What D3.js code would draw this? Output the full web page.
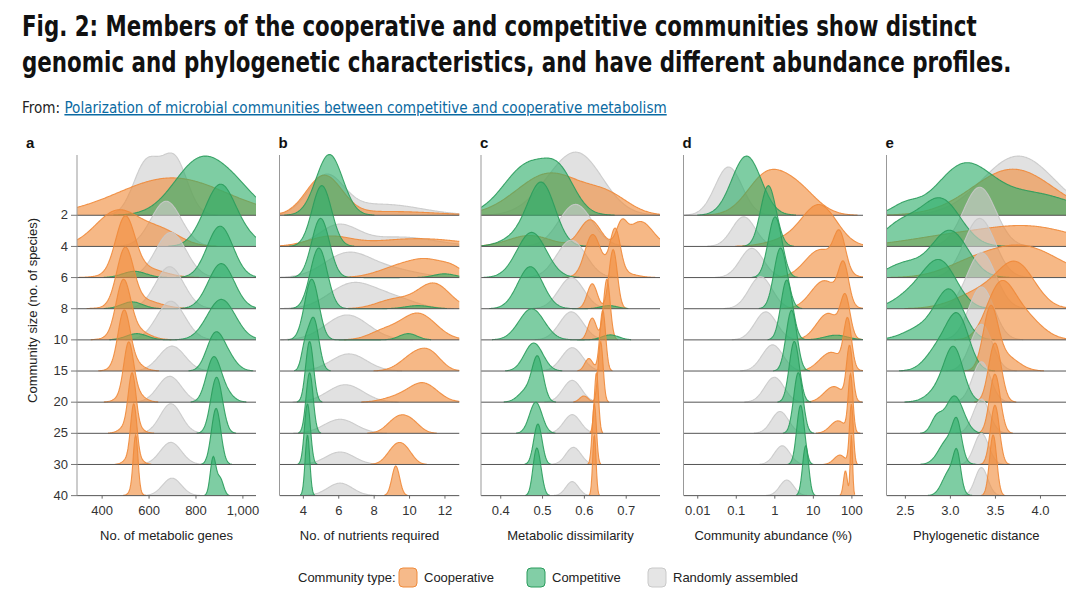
<!DOCTYPE html>
<html>
<head>
<meta charset="utf-8">
<script src="https://cdn.jsdelivr.net/npm/d3@7"></script>
<style>
  body { margin: 0; background: #fff; }
  svg { display: block; font-family: "Liberation Sans", Arial, sans-serif; }
</style>
</head>
<body>
<svg id="chart" width="1080" height="601"></svg>
<script>
// community sizes, one ridge row each (top to bottom)
const sizes = [2, 4, 6, 8, 10, 15, 20, 25, 30, 40];

// each ridge = list of [centre, spread, peak height in row units]
// a: no. of metabolic genes
const genesCoop = [
  [[700, 230, 1.2]],
  [[470, 95, 1.15], [660, 80, 0.45]],
  [[500, 40, 1.7], [560, 90, 0.35]],
  [[500, 35, 1.75], [560, 80, 0.3]],
  [[492, 30, 1.6], [525, 60, 0.4]],
  [[495, 25, 1.6], [515, 45, 0.4]],
  [[515, 20, 1.5], [525, 40, 0.45]],
  [[530, 16, 1.6], [525, 35, 0.35]],
  [[537, 13, 1.6], [535, 28, 0.35]],
  [[545, 10, 1.7], [540, 18, 0.25]]
];
const genesComp = [
  [[820, 110, 1.75], [980, 90, 0.6]],
  [[905, 60, 1.85], [1000, 60, 0.35], [820, 50, 0.2]],
  [[905, 55, 1.65], [540, 50, 0.2]],
  [[910, 55, 1.45], [530, 45, 0.22]],
  [[910, 60, 1.3], [550, 45, 0.2]],
  [[880, 35, 1.0], [930, 40, 0.5]],
  [[875, 30, 1.3], [920, 35, 0.35]],
  [[890, 25, 1.8]],
  [[888, 20, 1.8]],
  [[875, 12, 1.2], [905, 14, 0.55]]
];
const genesRand = [
  [[590, 55, 1.65], [710, 55, 1.8]],
  [[675, 65, 1.45]],
  [[695, 65, 1.45]],
  [[690, 60, 1.35]],
  [[695, 60, 1.24]],
  [[700, 55, 0.8]],
  [[690, 50, 0.83]],
  [[695, 45, 0.95]],
  [[695, 45, 0.71]],
  [[700, 40, 0.56]]
];

// b: no. of nutrients required
const nutrCoop = [
  [[5.2, 1.0, 1.25], [9, 2.5, 0.12]],
  [[5.5, 1.2, 0.3], [10.5, 2.5, 0.25]],
  [[9.5, 1.2, 0.35], [11.2, 1.0, 0.45], [12.5, 0.6, 0.2]],
  [[9.2, 1.0, 0.3], [11.4, 0.9, 0.8]],
  [[10.5, 1.0, 0.85], [8.5, 0.8, 0.25]],
  [[10.4, 0.8, 0.55], [11.3, 0.6, 0.35]],
  [[10.8, 0.8, 0.6], [9.3, 0.8, 0.15]],
  [[9.4, 0.6, 0.5], [10.2, 0.5, 0.25]],
  [[9.3, 0.5, 0.6], [9.9, 0.4, 0.25]],
  [[9.25, 0.22, 0.95]]
];
const nutrComp = [
  [[5.5, 0.75, 1.95]],
  [[5.07, 0.55, 1.95]],
  [[5.0, 0.5, 1.9], [12, 0.6, 0.12]],
  [[4.9, 0.48, 1.95], [10.5, 0.7, 0.1]],
  [[4.5, 0.4, 1.95], [9.95, 0.5, 0.2]],
  [[4.6, 0.3, 1.7], [4.1, 0.2, 0.6]],
  [[4.38, 0.22, 1.95]],
  [[4.38, 0.2, 1.95]],
  [[4.26, 0.17, 1.95]],
  [[4.26, 0.13, 1.95]]
];
const nutrRand = [
  [[5.3, 1.0, 1.2], [8.5, 2.2, 0.35]],
  [[6.0, 1.1, 0.65], [9.5, 2.0, 0.3]],
  [[6.5, 1.3, 0.75], [9, 1.5, 0.25]],
  [[6.8, 1.3, 0.8], [9.2, 1.2, 0.3]],
  [[6.5, 1.2, 0.8]],
  [[6.6, 1.0, 0.55]],
  [[6.4, 1.0, 0.56]],
  [[6.1, 0.9, 0.45]],
  [[6.1, 0.8, 0.4]],
  [[6.1, 0.7, 0.4]]
];

// c: metabolic dissimilarity
const dissCoop = [
  [[0.52, 0.08, 1.35], [0.66, 0.05, 0.5]],
  [[0.47, 0.05, 0.35], [0.615, 0.025, 0.85], [0.69, 0.012, 0.6], [0.735, 0.03, 0.8]],
  [[0.62, 0.018, 1.2], [0.675, 0.012, 1.3], [0.66, 0.04, 0.3]],
  [[0.62, 0.012, 0.8], [0.67, 0.01, 1.9]],
  [[0.62, 0.01, 0.7], [0.655, 0.008, 1.95]],
  [[0.612, 0.01, 0.4], [0.645, 0.007, 1.95]],
  [[0.6, 0.01, 0.2], [0.64, 0.006, 1.95]],
  [[0.63, 0.005, 1.95]],
  [[0.625, 0.005, 1.95]],
  [[0.625, 0.004, 1.95]]
];
const dissComp = [
  [[0.47, 0.06, 1.65], [0.545, 0.035, 0.85]],
  [[0.5, 0.032, 1.9], [0.45, 0.04, 0.35]],
  [[0.475, 0.035, 1.45]],
  [[0.472, 0.03, 1.35], [0.66, 0.02, 0.1]],
  [[0.475, 0.03, 1.0], [0.663, 0.02, 0.16]],
  [[0.48, 0.022, 0.9]],
  [[0.49, 0.013, 1.3], [0.465, 0.02, 0.4]],
  [[0.485, 0.015, 1.0]],
  [[0.49, 0.01, 1.3]],
  [[0.485, 0.008, 1.2], [0.495, 0.008, 0.6]]
];
const dissRand = [
  [[0.585, 0.06, 1.95], [0.5, 0.05, 0.3]],
  [[0.58, 0.04, 1.35]],
  [[0.57, 0.035, 1.2]],
  [[0.57, 0.03, 1.0]],
  [[0.57, 0.028, 0.9]],
  [[0.572, 0.025, 0.75]],
  [[0.572, 0.022, 0.7]],
  [[0.572, 0.02, 0.6]],
  [[0.575, 0.018, 0.55]],
  [[0.572, 0.015, 0.45]]
];

// d: community abundance (%), spread in decades
const abundCoop = [
  [[0.6, 0.5, 1.2], [4, 0.5, 0.8]],
  [[15, 0.45, 1.3], [2, 0.5, 0.2]],
  [[50, 0.15, 1.1], [16, 0.4, 0.9]],
  [[63, 0.13, 1.2], [20, 0.35, 0.9]],
  [[70, 0.12, 1.2], [25, 0.3, 0.85]],
  [[80, 0.1, 1.5], [30, 0.3, 0.6]],
  [[90, 0.08, 1.7], [35, 0.25, 0.5]],
  [[95, 0.06, 1.8], [45, 0.2, 0.4]],
  [[100, 0.05, 1.9], [50, 0.15, 0.3]],
  [[100, 0.03, 1.95], [70, 0.05, 0.8]]
];
const abundComp = [
  [[0.19, 0.38, 1.9]],
  [[0.7, 0.2, 1.95]],
  [[1.05, 0.18, 1.95]],
  [[1.45, 0.17, 1.95]],
  [[2.1, 0.15, 1.92], [40, 0.3, 0.15]],
  [[2.8, 0.14, 1.95]],
  [[3.3, 0.13, 1.95]],
  [[4.2, 0.12, 1.95]],
  [[4.8, 0.1, 1.9]],
  [[6.5, 0.08, 1.6]]
];
const abundRand = [
  [[0.065, 0.35, 1.55]],
  [[0.16, 0.3, 0.95]],
  [[0.26, 0.3, 0.94]],
  [[0.44, 0.3, 1.03]],
  [[0.6, 0.28, 0.9]],
  [[0.9, 0.27, 0.84]],
  [[1.0, 0.25, 0.8]],
  [[1.4, 0.22, 0.7]],
  [[1.6, 0.2, 0.6]],
  [[2.1, 0.18, 0.5]]
];

// e: phylogenetic distance
const phyloCoop = [
  [[3.7, 0.45, 1.48]],
  [[3.9, 0.5, 0.6], [3.0, 0.5, 0.3]],
  [[3.8, 0.4, 1.0], [3.2, 0.3, 0.3]],
  [[3.75, 0.2, 1.2], [3.4, 0.3, 0.6]],
  [[3.55, 0.15, 1.5], [3.8, 0.2, 0.8]],
  [[3.45, 0.08, 1.8], [3.6, 0.15, 0.5]],
  [[3.5, 0.07, 1.9]],
  [[3.5, 0.06, 1.9]],
  [[3.5, 0.05, 1.9]],
  [[3.48, 0.04, 1.95]]
];
const phyloComp = [
  [[3.15, 0.3, 1.5], [3.9, 0.45, 0.7], [2.5, 0.15, 0.3]],
  [[2.9, 0.22, 1.5], [2.45, 0.2, 0.7]],
  [[3.0, 0.2, 1.5], [2.5, 0.2, 0.45]],
  [[2.9, 0.18, 1.4], [2.6, 0.2, 0.5]],
  [[3.0, 0.15, 1.5], [2.7, 0.2, 0.4]],
  [[3.1, 0.12, 1.5], [2.9, 0.15, 0.8]],
  [[3.05, 0.1, 1.3], [2.95, 0.15, 0.6]],
  [[3.05, 0.1, 1.2], [2.85, 0.06, 0.45]],
  [[3.08, 0.05, 1.0], [2.98, 0.1, 0.8]],
  [[3.08, 0.04, 1.0], [3.0, 0.08, 0.8]]
];
const phyloRand = [
  [[3.76, 0.4, 1.9]],
  [[3.33, 0.18, 1.9]],
  [[3.33, 0.17, 1.9]],
  [[3.35, 0.16, 1.8]],
  [[3.35, 0.14, 1.7]],
  [[3.35, 0.12, 1.5]],
  [[3.35, 0.1, 1.3]],
  [[3.35, 0.09, 1.1]],
  [[3.35, 0.08, 1.0]],
  [[3.35, 0.07, 0.9]]
];

const genesTicks = [400, 600, 800, 1000];
const nutrTicks = [4, 6, 8, 10, 12];
const dissTicks = [0.4, 0.5, 0.6, 0.7];
const abundTicks = [0.01, 0.1, 1, 10, 100];
const abundTickLabels = ['0.01', '0.1', '1', '10', '100'];
const phyloTicks = [2.5, 3.0, 3.5, 4.0];

const svg = d3.select('#chart');

// title + source line, squeezed horizontally to the reference width
function fitText(sel, width) {
  const w = sel.node().getComputedTextLength();
  const x = +sel.attr('x'), yy = +sel.attr('y');
  sel.attr('x', 0).attr('y', 0)
    .attr('transform', `translate(${x},${yy}) scale(${width / w},1)`);
}
const titleFont = '"DejaVu Sans Condensed", "Liberation Sans Narrow", sans-serif';
const t1 = svg.append('text').attr('x', 22).attr('y', 36)
  .attr('font-family', titleFont).attr('font-weight', 'bold').attr('font-size', 28).attr('fill', '#111')
  .text('Fig. 2: Members of the cooperative and competitive communities show distinct');
fitText(t1, 955);
const t2 = svg.append('text').attr('x', 22).attr('y', 72)
  .attr('font-family', titleFont).attr('font-weight', 'bold').attr('font-size', 28).attr('fill', '#111')
  .text('genomic and phylogenetic characteristics, and have different abundance profiles.');
fitText(t2, 990);

const src = svg.append('text').attr('x', 22).attr('y', 113)
  .attr('font-family', titleFont).attr('font-size', 15);
src.append('tspan').attr('fill', '#222').text('From: ');
src.append('tspan').attr('fill', '#0b6aa2').attr('text-decoration', 'underline')
  .text('Polarization of microbial communities between competitive and cooperative metabolism');
fitText(src, 645);

const colors = {
  coop: { fill: '#f08c3c', line: '#ef8a3a', op: 0.62 },
  comp: { fill: '#2fae6a', line: '#2a9c5c', op: 0.62 },
  rand: { fill: '#cfcfcf', line: '#c9c9c9', op: 0.62 }
};

const y = d3.scaleBand().domain(sizes).range([199.7, 511.2]).paddingInner(0).align(0);
const rowStep = y.step();
const base = s => y(s) + rowStep / 2;
const h = d3.scaleLinear().domain([0, 1]).range([0, rowStep]);

const panels = [
  { key: 'a', title: 'No. of metabolic genes', coop: genesCoop, comp: genesComp, rand: genesRand,
    x0: 77, x1: 256, domain: [295, 1058], ticks: genesTicks, fmt: d3.format(','), log: false },
  { key: 'b', title: 'No. of nutrients required', coop: nutrCoop, comp: nutrComp, rand: nutrRand,
    x0: 279.5, x1: 459.5, domain: [2.68, 12.85], ticks: nutrTicks, fmt: d3.format('d'), log: false },
  { key: 'c', title: 'Metabolic dissimilarity', coop: dissCoop, comp: dissComp, rand: dissRand,
    x0: 481, x1: 660, domain: [0.354, 0.782], ticks: dissTicks, fmt: d3.format('.1f'), log: false },
  { key: 'd', title: 'Community abundance (%)', coop: abundCoop, comp: abundComp, rand: abundRand,
    x0: 683.5, x1: 863, domain: [0.0044, 200], ticks: abundTicks, fmt: (d, i) => abundTickLabels[i], log: true },
  { key: 'e', title: 'Phylogenetic distance', coop: phyloCoop, comp: phyloComp, rand: phyloRand,
    x0: 886.5, x1: 1066, domain: [2.296, 4.289], ticks: phyloTicks, fmt: d3.format('.1f'), log: false }
];

panels.forEach(p => {
  const x = (p.log ? d3.scaleLog() : d3.scaleLinear()).domain(p.domain).range([p.x0, p.x1]);
  // density evaluated along the pixel axis
  const N = 260;
  const px = d3.range(N + 1).map(i => p.x0 + (p.x1 - p.x0) * i / N);
  const tx = v => p.log ? Math.log10(v) : v;
  const density = comps => px.map(xx => {
    const v = tx(x.invert(xx));
    return d3.sum(comps, c => c[2] * Math.exp(-0.5 * Math.pow((v - tx(c[0])) / c[1], 2)));
  });

  const g = svg.append('g');
  g.append('clipPath').attr('id', 'clip-' + p.key)
    .append('rect').attr('x', p.x0).attr('y', 120).attr('width', p.x1 - p.x0).attr('height', 400);
  const plot = g.append('g').attr('clip-path', `url(#clip-${p.key})`);

  sizes.forEach((s, i) => {
    const b = base(s);
    ['rand', 'coop', 'comp'].forEach(type => {
      const d = density(p[type][i]);
      let lo = d.findIndex(v => v > 0.006);
      let hi = N - [...d].reverse().findIndex(v => v > 0.006);
      if (lo < 0) return;
      const pts = d3.range(lo, hi + 1).map(k => [px[k], d[k]]);
      plot.append('path')
        .attr('d', d3.area().x(q => q[0]).y0(b).y1(q => b - h(q[1]))(pts))
        .attr('fill', colors[type].fill).attr('fill-opacity', colors[type].op);
      plot.append('path')
        .attr('d', d3.line().x(q => q[0]).y(q => b - h(q[1]))(pts))
        .attr('fill', 'none').attr('stroke', colors[type].line).attr('stroke-width', 1.1)
        .attr('stroke-opacity', 0.9);
    });
    plot.append('line').attr('x1', p.x0).attr('x2', p.x1).attr('y1', b).attr('y2', b)
      .attr('stroke', '#555').attr('stroke-width', 1);
  });

  // left axis line
  g.append('line').attr('x1', p.x0).attr('x2', p.x0).attr('y1', 155).attr('y2', base(40))
    .attr('stroke', '#999').attr('stroke-width', 1);

  // x axis
  const xa = d3.axisBottom(x).tickValues(p.ticks).tickSize(3).tickFormat(p.fmt);
  const ax = g.append('g').attr('transform', `translate(0,${base(40)})`).call(xa);
  ax.select('.domain').remove();
  ax.selectAll('line').attr('stroke', '#666');
  ax.selectAll('text').attr('font-size', 13).attr('fill', '#333').attr('dy', '1.05em')
    .attr('font-family', '"Liberation Sans", Arial, sans-serif');

  g.append('text').attr('x', (p.x0 + p.x1) / 2).attr('y', 540).attr('text-anchor', 'middle')
    .attr('font-size', 13).attr('fill', '#222').text(p.title);

  g.append('text').attr('x', p.x0 - 51 + (p.key === 'a' ? 0 : 50)).attr('y', 148)
    .attr('font-size', 15).attr('font-weight', 'bold').attr('fill', '#111').text(p.key);

  if (p.key === 'a') {
    const ya = d3.axisLeft(y).tickSize(6).tickPadding(3);
    const ay = g.append('g').attr('transform', `translate(${p.x0},0)`).call(ya);
    ay.select('.domain').remove();
    ay.selectAll('line').attr('stroke', '#777');
    ay.selectAll('text').attr('font-size', 13).attr('fill', '#333')
      .attr('font-family', '"Liberation Sans", Arial, sans-serif');
    g.append('text').attr('transform', `translate(37,${(base(2) + base(40)) / 2 - 45}) rotate(-90)`)
      .attr('text-anchor', 'middle').attr('font-size', 13).attr('fill', '#222')
      .text('Community size (no. of species)');
  }
});

// legend
const legendItems = [
  { label: 'Cooperative', type: 'coop', x: 408 },
  { label: 'Competitive', type: 'comp', x: 536 },
  { label: 'Randomly assembled', type: 'rand', x: 657 }
];
const lg = svg.append('g').attr('font-size', 13).attr('fill', '#222');
lg.append('text').attr('x', 298).attr('y', 582).text('Community type:');
legendItems.forEach(it => {
  lg.append('rect').attr('x', it.x - 9).attr('y', 568).attr('width', 18).attr('height', 19).attr('rx', 4)
    .attr('fill', colors[it.type].fill).attr('fill-opacity', it.type === 'rand' ? 0.55 : 0.6)
    .attr('stroke', colors[it.type].line).attr('stroke-width', 1);
  lg.append('text').attr('x', it.x + 16).attr('y', 582).text(it.label);
});
</script>
</body>
</html>
